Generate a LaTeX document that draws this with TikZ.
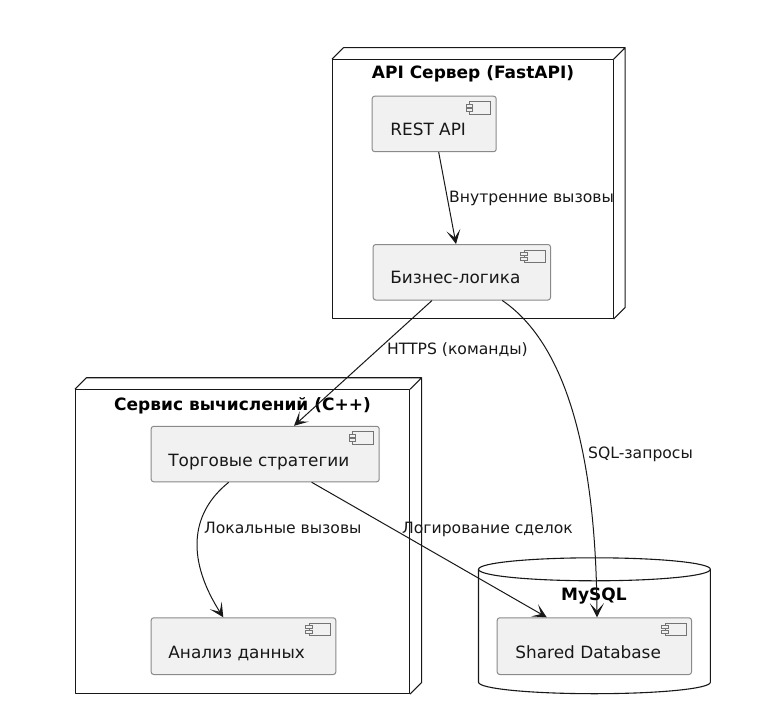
\documentclass[tikz,border=0pt]{standalone}
\usepackage{fontspec}
\setmainfont{DejaVu Sans}
\usetikzlibrary{arrows.meta,calc}
\definecolor{ink}{HTML}{181818}
\definecolor{compfill}{HTML}{F1F1F1}
\definecolor{compline}{HTML}{8A8A8A}
\tikzset{
  x=1pt,y=-1pt,
  frame/.style={draw=ink,line width=1.1pt,line join=round},
  compbox/.style={draw=compline,fill=compfill,line width=1pt,rounded corners=2.5pt,anchor=north west,inner sep=0pt},
  comptext/.style={font=\fontsize{16.9}{19}\selectfont,text=ink,anchor=base west,inner sep=0pt},
  icon/.style={draw=ink!60,line width=.7pt,fill=compfill},
  title/.style={font=\fontsize{17}{19}\selectfont\bfseries,text=black,anchor=base,inner sep=0pt},
  lab/.style={font=\fontsize{15.6}{18}\selectfont,text=ink,anchor=base west,inner sep=0pt},
  conn/.style={draw=ink,line width=1pt,-{Stealth[length=14pt,width=14pt,inset=7.5pt]}},
}
\newcommand{\compicon}[1]{%
  \draw[icon] ([shift={(-27,6)}]#1.north east) rectangle ([shift={(-6,18.5)}]#1.north east);
  \draw[icon] ([shift={(-30.5,8.5)}]#1.north east) rectangle ([shift={(-24,11.5)}]#1.north east);
  \draw[icon] ([shift={(-30.5,13)}]#1.north east) rectangle ([shift={(-24,16)}]#1.north east);
}
\newcommand{\nodeframe}[5]{% name x1 y1 x2 y2
  \node[frame,fill=white,anchor=north west,inner sep=0pt,minimum width=#4-#2,minimum height=#5-#3] (#1) at (#2,#3) {};
  \draw[frame] (#1.north west) -- ++(11.5,-11.5) -- ([shift={(11.5,-11.5)}]#1.north east) -- (#1.north east)
    ([shift={(11.5,-11.5)}]#1.north east) -- ([shift={(11.5,-11.5)}]#1.south east) -- (#1.south east);
}
\begin{document}
\begin{tikzpicture}
\useasboundingbox (0,0) rectangle (777,717);
\fill[white] (0,0) rectangle (777,717);

% frames
\nodeframe{api}{332}{59.2}{612.5}{318}
\nodeframe{calc}{75}{389.2}{409}{693}

% database cylinder
\node[inner sep=0pt,minimum width=231.5pt,minimum height=135.5pt,anchor=north west] (db) at (478.5,557.8) {};
\draw[frame,fill=white] ([yshift=-11.5pt]db.north west)
   .. controls ([shift={(0,5)}]db.north west) and ([shift={(-64,0)}]db.north) .. (db.north)
   .. controls ([shift={(64,0)}]db.north) and ([shift={(0,5)}]db.north east) .. ([yshift=-11.5pt]db.north east)
   -- ([yshift=11.5pt]db.south east)
   .. controls ([shift={(0,-5)}]db.south east) and ([shift={(64,0)}]db.south) .. (db.south)
   .. controls ([shift={(-64,0)}]db.south) and ([shift={(0,-5)}]db.south west) .. ([yshift=11.5pt]db.south west)
   -- cycle;
\draw[frame] ([yshift=-11.5pt]db.north west)
   .. controls ([shift={(0,18)}]db.north west) and ([shift={(-64,23)}]db.north) .. ([yshift=-23pt]db.north)
   .. controls ([shift={(64,23)}]db.north) and ([shift={(0,18)}]db.north east) .. ([yshift=-11.5pt]db.north east);

% titles
\node[title] (apit) at (473,78) {API Сервер (FastAPI)};
\node[title] (calct) at (242.5,410) {Сервис вычислений (C++)};
\node[title] (dbt) at (594,600) {MySQL};

% components
\node[compbox,minimum width=124pt,minimum height=55.5pt] (rest) at (371.7,95.7) {};
\node[comptext] (restt) at ([shift={(18.5,40)}]rest.north west) {REST API};
\compicon{rest}
\node[compbox,minimum width=177.3pt,minimum height=55.5pt] (biz) at (372.7,244) {};
\node[comptext] (bizt) at ([shift={(17.5,39.5)}]biz.north west) {Бизнес-логика};
\compicon{biz}
\node[compbox,minimum width=228pt,minimum height=55.5pt] (trade) at (150.7,425.8) {};
\node[comptext] (tradet) at ([shift={(17.5,41)}]trade.north west) {Торговые стратегии};
\compicon{trade}
\node[compbox,minimum width=184.6pt,minimum height=56.7pt] (ana) at (150.7,617.3) {};
\node[comptext] (anat) at ([shift={(17.5,41)}]ana.north west) {Анализ данных};
\compicon{ana}
\node[compbox,minimum width=194.3pt,minimum height=56.7pt] (shared) at (496.7,617.3) {};
\node[comptext] (sharedt) at ([shift={(18.5,41)}]shared.north west) {Shared Database};
\compicon{shared}

% connectors
\draw[conn] ([xshift=67pt]rest.south west) -- ([xshift=83.3pt]biz.north west);
\draw[conn] ([xshift=59.3pt]biz.south west) -- ([xshift=143.3pt]trade.north west);
\draw[conn] ([xshift=129.6pt]biz.south west) .. controls (575,350) and (596,480) .. ([xshift=100.3pt]shared.north west);
\draw[conn] ([xshift=78pt]trade.south west) .. controls (188,515) and (188,562) .. ([xshift=72.6pt]ana.north west);
\draw[conn] ([xshift=161pt]trade.south west) -- ([xshift=50pt]shared.north west);

% labels
\node[lab] (l1) at (449,202.5) {Внутренние вызовы};
\node[lab] (l2) at (387,354) {HTTPS (команды)};
\node[lab] (l3) at (588,458.5) {SQL-запросы};
\node[lab] (l4) at (204,533) {Локальные вызовы};
\node[lab] (l5) at (402,533) {Логирование сделок};
\end{tikzpicture}
\end{document}
